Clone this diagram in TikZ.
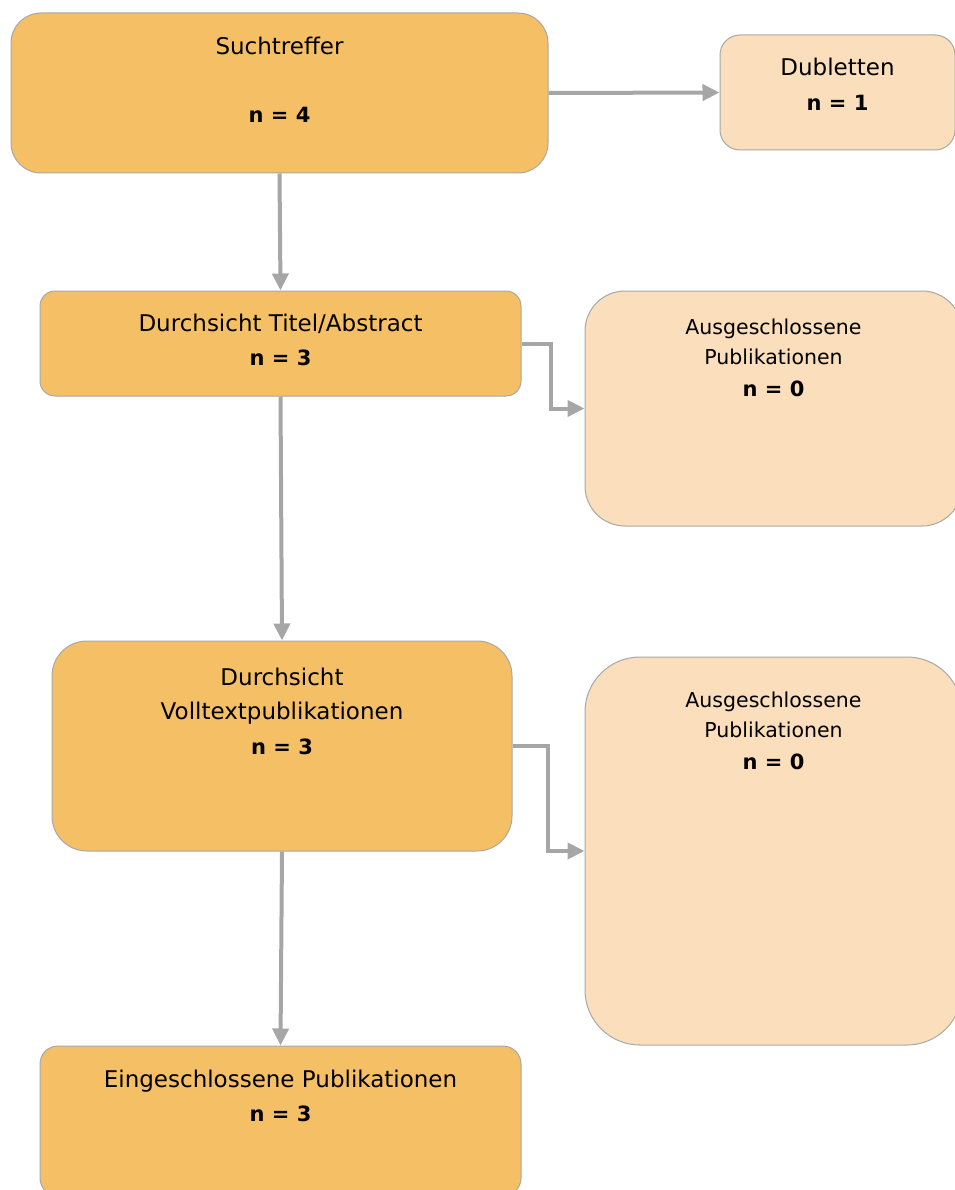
\documentclass[tikz,border=0pt]{standalone}
\usepackage{fontspec}
\setmainfont{DejaVu Sans}
\usetikzlibrary{arrows.meta}
\definecolor{boxorange}{HTML}{F5BF65}
\definecolor{boxpeach}{HTML}{FBDEBB}
\definecolor{boxline}{HTML}{A8A8A8}
\definecolor{arrgray}{HTML}{A6A6A6}
\tikzset{
  stage/.style={draw=boxline, line width=1pt, fill=boxorange, inner sep=0pt, rectangle},
  side/.style={draw=boxline, line width=1pt, fill=boxpeach, inner sep=0pt, rectangle},
  lbl/.style={anchor=base, inner sep=0pt, font=\fontsize{23}{27}\selectfont},
  slbl/.style={anchor=base, inner sep=0pt, font=\fontsize{20.5}{24}\selectfont},
  nlbl/.style={anchor=base, inner sep=0pt, font=\fontsize{21}{25}\selectfont\bfseries},
  arr/.style={draw=arrgray, line width=4pt, -{Triangle[length=17pt,width=16pt]}}
}
\begin{document}
\begin{tikzpicture}[x=1pt,y=-1pt]
\useasboundingbox (0,0) rectangle (954,1190);
% boxes
\node[stage, rounded corners=30pt, minimum width=537pt, minimum height=160pt] (such) at (279.5,93) {};
\node[side, rounded corners=20pt, minimum width=235pt, minimum height=115pt] (dub) at (837.5,92.5) {};
\node[stage, rounded corners=15pt, minimum width=481pt, minimum height=105pt] (titel) at (280.5,343.5) {};
\node[side, rounded corners=40pt, minimum width=377pt, minimum height=235pt] (aus1) at (773.5,408.5) {};
\node[stage, rounded corners=35pt, minimum width=460pt, minimum height=210pt] (voll) at (282,746) {};
\node[side, rounded corners=55pt, minimum width=377pt, minimum height=388pt] (aus2) at (773.5,851) {};
\node[stage, rounded corners=18pt, minimum width=481pt, minimum height=150pt] (ein) at (280.5,1121) {};
% texts
\node[lbl] (t1) at (279.5,55) {Suchtreffer};
\node[nlbl] (t1n) at (279.5,123) {n = 4};
\node[lbl] (t2) at (837.5,76) {Dubletten};
\node[nlbl] (t2n) at (837.5,111) {n = 1};
\node[lbl] (t3) at (280.5,331) {Durchsicht Titel/Abstract};
\node[nlbl] (t3n) at (280.5,365) {n = 3};
\node[slbl] (t4) at (773.5,334) {Ausgeschlossene};
\node[slbl] (t4b) at (773.5,364) {Publikationen};
\node[nlbl] (t4n) at (773.5,396) {n = 0};
\node[lbl] (t5) at (282,685) {Durchsicht};
\node[lbl] (t5b) at (282,719) {Volltextpublikationen};
\node[nlbl] (t5n) at (282,754) {n = 3};
\node[slbl] (t6) at (773.5,707) {Ausgeschlossene};
\node[slbl] (t6b) at (773.5,737) {Publikationen};
\node[nlbl] (t6n) at (773.5,769) {n = 0};
\node[lbl] (t7) at (280.5,1087) {Eingeschlossene Publikationen};
\node[nlbl] (t7n) at (280.5,1121) {n = 3};
% connectors
\draw[arr] (such.east) -- (dub.west);
\draw[arr] (such.south) -- (titel.north);
\draw[arr] (titel.east) -- ++(29,0) |- (aus1.west);
\draw[arr] (titel.south) -- (voll.north);
\draw[arr] (voll.east) -- ++(35,0) |- (aus2.west);
\draw[arr] (voll.south) -- (ein.north);
\end{tikzpicture}
\end{document}
